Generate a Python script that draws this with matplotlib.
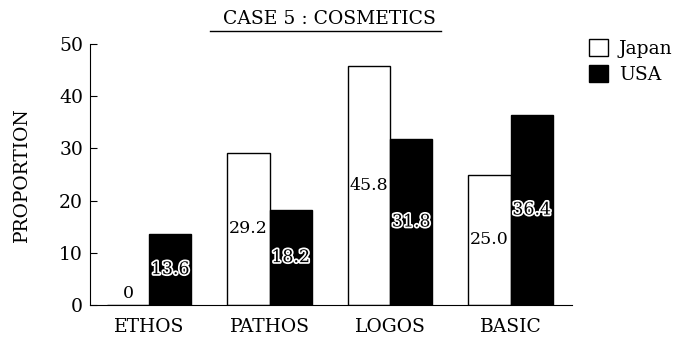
import numpy as np
import matplotlib.pyplot as plt
import matplotlib.patheffects as pe
from matplotlib.lines import Line2D

plt.rcParams['font.family'] = ['DejaVu Serif']

categories = ['ETHOS', 'PATHOS', 'LOGOS', 'BASIC']
japan = [0.0, 29.2, 45.8, 25.0]
usa = [13.6, 18.2, 31.8, 36.4]
japan_labels = ['0', '29.2', '45.8', '25.0']
usa_labels = ['13.6', '18.2', '31.8', '36.4']

fig = plt.figure(figsize=(6.77, 3.39), dpi=100)
ax = fig.add_axes([0.133, 0.100, 0.712, 0.770])

x = np.arange(len(categories))
w = 0.35
ax.bar(x - w/2, japan, w, color='white', edgecolor='black', linewidth=1.0, label='Japan')
ax.bar(x + w/2, usa, w, color='black', edgecolor='black', linewidth=1.0, label='USA')

for i in range(len(categories)):
    yj = japan[i]/2 if japan[i] > 0 else 2.3
    ax.text(x[i] - w/2, yj, japan_labels[i], ha='center', va='center', fontsize=12.5,
            color='black')
    ax.text(x[i] + w/2, usa[i]/2, usa_labels[i], ha='center', va='center', fontsize=12.5,
            color='black', path_effects=[pe.withStroke(linewidth=2.5, foreground='white')])

ax.set_xlim(-0.49, 3.51)
ax.set_ylim(0, 50)
ax.set_yticks([0, 10, 20, 30, 40, 50])
ax.set_xticks(x)
ax.set_xticklabels(categories)
ax.tick_params(axis='y', direction='in', length=5, labelsize=13.5, pad=5)
ax.tick_params(axis='x', length=0, labelsize=13.5, pad=9)
ax.spines['top'].set_visible(False)
ax.spines['right'].set_visible(False)
ax.set_ylabel('PROPORTION', fontsize=13.5, labelpad=20)

fig.text(0.487, 0.945, 'CASE 5 : COSMETICS', ha='center', va='center', fontsize=13.5)
fig.add_artist(Line2D([0.31, 0.652], [0.91, 0.91], color='black', linewidth=1.0))

ax.legend(loc='upper left', bbox_to_anchor=(1.0, 1.085), frameon=False, fontsize=13.5,
          handlelength=1.0, handleheight=1.0, handletextpad=0.6, labelspacing=0.4)

fig.savefig('out.png', dpi=100)
